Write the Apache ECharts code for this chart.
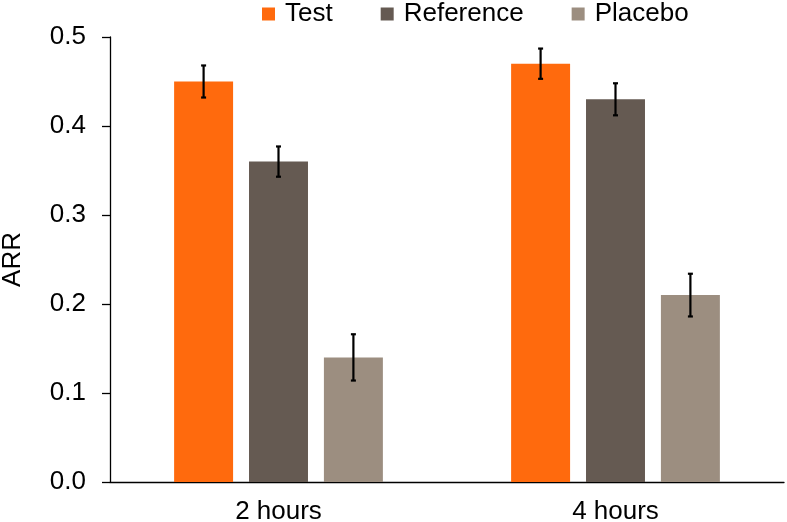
<!DOCTYPE html>
<html>
<head>
<meta charset="utf-8">
<script src="https://cdn.jsdelivr.net/npm/echarts@6/dist/echarts.min.js"></script>
<style>
html,body{margin:0;padding:0;background:#fff;}
#chart{width:787px;height:522px;}
</style>
</head>
<body>
<div id="chart"></div>
<script>
var categories = ['2 hours', '4 hours'];
var seriesNames = ['Test', 'Reference', 'Placebo'];
var testValues = [0.45, 0.47];
var referenceValues = [0.36, 0.43];
var placeboValues = [0.14, 0.21];
var testErrors = [0.018, 0.017];
var referenceErrors = [0.017, 0.018];
var placeboErrors = [0.026, 0.024];
var yTicks = [0, 0.1, 0.2, 0.3, 0.4, 0.5];

var colors = ['#FF6A0D', '#655A52', '#9C8E80'];
var values = [testValues, referenceValues, placeboValues];
var errors = [testErrors, referenceErrors, placeboErrors];
var BAR_FRAC = 0.175, BAR_GAP = 0.27;

var chart = echarts.init(document.getElementById('chart'));
var series = [];
values.forEach(function (vals, i) {
  series.push({
    name: seriesNames[i], type: 'bar', data: vals,
    barWidth: (BAR_FRAC * 100) + '%', barGap: (BAR_GAP * 100) + '%',
    itemStyle: { color: colors[i] }
  });
});
values.forEach(function (vals, i) {
  var data = vals.map(function (v, k) { return [k, v - errors[i][k], v + errors[i][k]]; });
  series.push({
    type: 'custom', name: seriesNames[i] + ' error', z: 10, silent: true,
    data: data, encode: { x: 0, y: [1, 2] },
    renderItem: function (params, api) {
      var band = api.size([1, 0])[0];
      var off = (i - 1) * band * BAR_FRAC * (1 + BAR_GAP);
      var lo = api.coord([api.value(0), api.value(1)]);
      var hi = api.coord([api.value(0), api.value(2)]);
      var x = lo[0] + off, hw = 2.5;
      var st = { stroke: '#000', lineWidth: 2.2 };
      return { type: 'group', children: [
        { type: 'line', shape: { x1: x, y1: lo[1], x2: x, y2: hi[1] }, style: st },
        { type: 'line', shape: { x1: x - hw, y1: lo[1], x2: x + hw, y2: lo[1] }, style: st },
        { type: 'line', shape: { x1: x - hw, y1: hi[1], x2: x + hw, y2: hi[1] }, style: st }
      ]};
    }
  });
});

chart.setOption({
  animation: false,
  textStyle: { fontFamily: 'Liberation Sans, Arial, sans-serif' },
  grid: { left: 110, right: 3, top: 37, bottom: 40, outerBoundsMode: 'none', containLabel: false },
  legend: {
    data: seriesNames, left: 257, top: -4, itemGap: 48,
    itemWidth: 13, itemHeight: 13, icon: 'rect',
    textStyle: { fontSize: 26, color: '#000', padding: [0, 0, 0, 5] }
  },
  xAxis: {
    type: 'category', data: categories,
    axisLine: { lineStyle: { color: '#000', width: 1.3 } },
    axisTick: { length: 7, lineStyle: { color: '#000', width: 1.3 } },
    axisLabel: { fontSize: 26, color: '#000', margin: 17 }
  },
  yAxis: {
    type: 'value', min: yTicks[0], max: yTicks[yTicks.length - 1], interval: 0.1,
    name: 'ARR', nameLocation: 'middle', nameGap: 84, nameRotate: 90,
    nameTextStyle: { fontSize: 26, color: '#000' },
    splitLine: { show: false },
    axisLine: { show: true, lineStyle: { color: '#000', width: 1.3 } },
    axisTick: { show: true, length: 8, lineStyle: { color: '#000', width: 1.3 } },
    axisLabel: { fontSize: 26, color: '#000', margin: 24, formatter: function (v) { return v.toFixed(1); } }
  },
  series: series
});
</script>
</body>
</html>
